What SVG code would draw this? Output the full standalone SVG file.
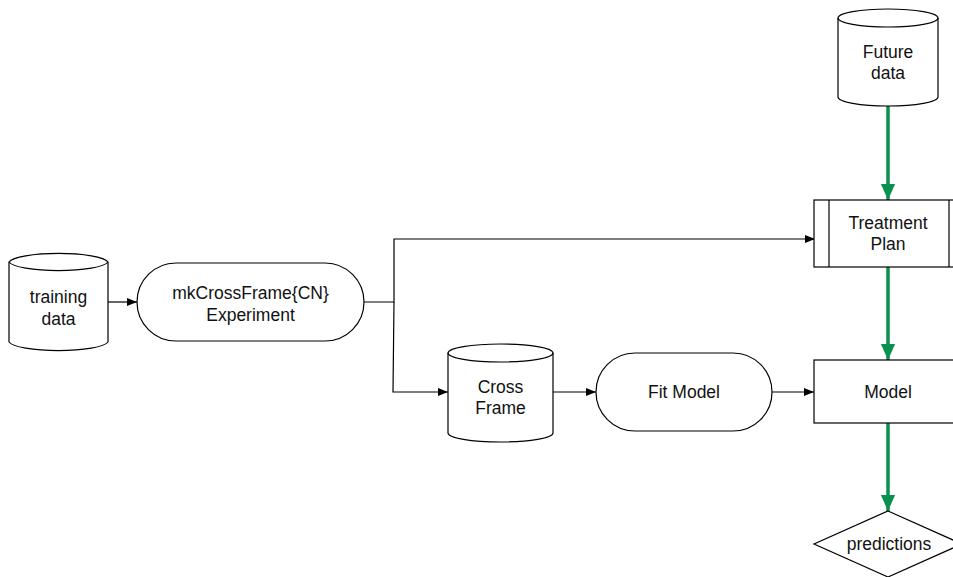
<svg xmlns="http://www.w3.org/2000/svg" width="953" height="577" viewBox="0 0 953 577">
<defs>
<marker id="ab" markerWidth="10" markerHeight="8" refX="10" refY="4" orient="auto" markerUnits="userSpaceOnUse"><path d="M0,0 L10,4 L0,8 Z" fill="#000"/></marker>
<marker id="ag" markerWidth="16" markerHeight="18" refX="18" refY="8" orient="auto" markerUnits="userSpaceOnUse" viewBox="0 0 18 16"><path d="M0,0 L18,8 L0,16 Z" fill="#0a9150"/></marker>
</defs>
<style>
.s{fill:#fff;stroke:#000;stroke-width:1.2}
.l{fill:none;stroke:#000;stroke-width:1.2}
.g{fill:none;stroke:#0a9150;stroke-width:3.5}
text{font-family:"Liberation Sans",Arial,sans-serif;font-size:17.5px;fill:#111;text-anchor:middle}
</style>
<rect width="953" height="577" fill="#fff"/>
<g id="connectors">
<line class="l" x1="108" y1="302" x2="137" y2="302" marker-end="url(#ab)"/>
<polyline class="l" points="364,302 394,302 394,239 815,239" marker-end="url(#ab)"/>
<polyline class="l" points="394,302 393,392 448,392" marker-end="url(#ab)"/>
<line class="l" x1="553" y1="392" x2="596" y2="392" marker-end="url(#ab)"/>
<line class="l" x1="772" y1="392" x2="814" y2="392" marker-end="url(#ab)"/>
<line class="g" x1="888" y1="106" x2="888" y2="200" marker-end="url(#ag)"/>
<line class="g" x1="888" y1="267" x2="888" y2="360" marker-end="url(#ag)"/>
<line class="g" x1="888" y1="423" x2="888" y2="511" marker-end="url(#ag)"/>
</g>
<g id="training-data">
<path class="s" d="M9,262 L9,342 A50,10 0 0 0 108,342 L108,262 A50,10 0 0 0 9,262 Z"/>
<path class="l" d="M9,262 A50,10 0 0 0 108,262"/>
<text x="58.5" y="303">training</text>
<text x="58.5" y="325">data</text>
</g>
<g id="experiment">
<rect class="s" x="137" y="263" width="227" height="78" rx="39" ry="39"/>
<text x="250.5" y="299">mkCrossFrame{CN}</text>
<text x="250.5" y="321">Experiment</text>
</g>
<g id="future-data">
<path class="s" d="M838,18 L838,97 A50,9 0 0 0 938,97 L938,18 A50,9 0 0 0 838,18 Z"/>
<path class="l" d="M838,18 A50,9 0 0 0 938,18"/>
<text x="888" y="58">Future</text>
<text x="888" y="79">data</text>
</g>
<g id="treatment-plan">
<rect class="s" x="814" y="200" width="150" height="67"/>
<line class="l" x1="829" y1="200" x2="829" y2="267"/>
<line class="l" x1="949" y1="200" x2="949" y2="267"/>
<text x="888" y="229">Treatment</text>
<text x="888" y="250">Plan</text>
</g>
<g id="cross-frame">
<path class="s" d="M448,353 L448,433 A52.5,9 0 0 0 553,433 L553,353 A52.5,9 0 0 0 448,353 Z"/>
<path class="l" d="M448,353 A52.5,9 0 0 0 553,353"/>
<text x="500.5" y="393">Cross</text>
<text x="500.5" y="414">Frame</text>
</g>
<g id="fit-model">
<rect class="s" x="596" y="353" width="176" height="78" rx="39" ry="39"/>
<text x="684" y="398">Fit Model</text>
</g>
<g id="model">
<rect class="s" x="814" y="360" width="150" height="63"/>
<text x="888" y="398">Model</text>
</g>
<g id="predictions">
<polygon class="s" points="888,511 962,544 888,577 814,544"/>
<text x="889" y="550">predictions</text>
</g>
</svg>
